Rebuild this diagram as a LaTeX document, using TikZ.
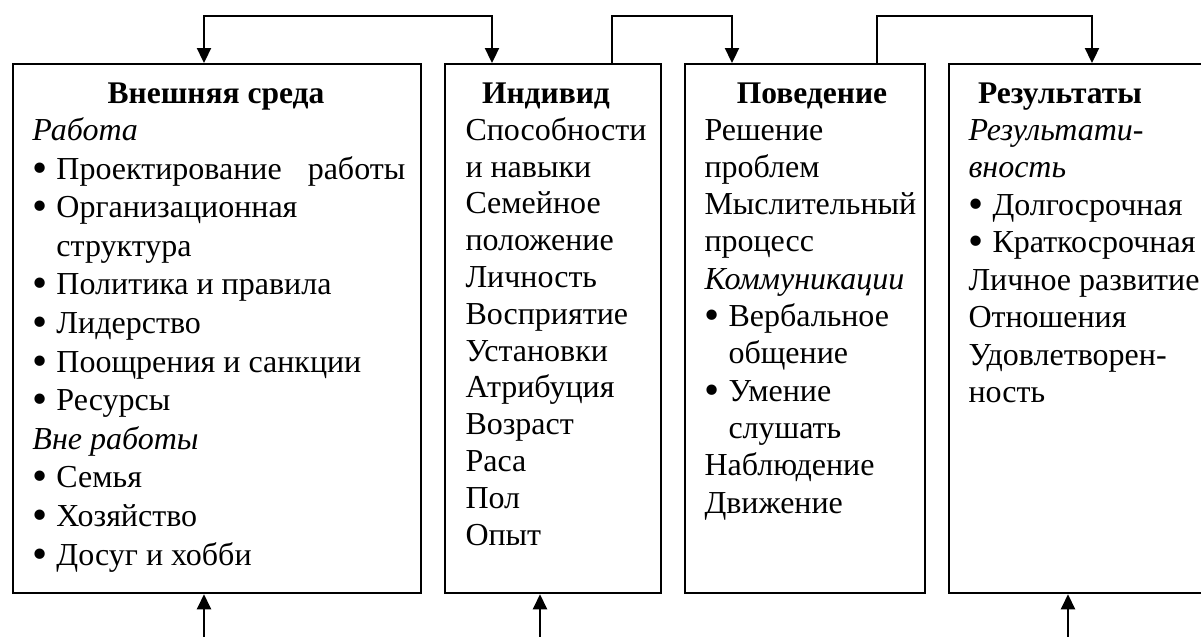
\documentclass[tikz,border=0pt]{standalone}
\usepackage{fontspec}
\usepackage{graphicx}
\setmainfont{Liberation Serif}
\usetikzlibrary{arrows.meta, calc}

\newcommand{\itm}{\makebox[9.6pt][l]{\raisebox{-1.2pt}{\scalebox{1.35}{•}}}}
\newcommand{\cont}{\hspace*{9.6pt}}

\begin{document}
\begin{tikzpicture}[x=0.4pt, y=-0.4pt, >={Triangle[length=6pt, width=5.6pt]},
    box/.style={draw, line width=0.9pt, rectangle, anchor=north west, minimum height=211.6pt, inner sep=0pt},
    head/.style={anchor=base, inner sep=0pt, font=\fontsize{12.6}{15.4}\selectfont\bfseries},
    body/.style={anchor=base west, align=left, inner sep=0pt, font=\fontsize{12.8}{#1}\selectfont},
    link/.style={line width=0.9pt}]
    \useasboundingbox (0,0) rectangle (1201,636);

    % boxes
    \node[box, minimum width=163.2pt] (env) at (12,63) {};
    \node[box, minimum width=86.4pt] (ind) at (444,63) {};
    \node[box, minimum width=96pt] (beh) at (684,63) {};
    \node[box, minimum width=105.6pt] (res) at (948,63) {};

    % headings
    \node[head] (envhd) at (216,103) {Внешняя среда};
    \node[head] (indhd) at (546,103) {Индивид};
    \node[head] (behhd) at (812,103) {Поведение};
    \node[head] (reshd) at (1060,103) {Результаты};

    % contents (anchored at the baseline of the last line)
    \node[body=15.44pt] (envtxt) at (32,565) {\textit{Работа}\\
        \itm Проектирование\hspace{10.4pt}работы\\
        \itm Организационная\\
        \cont структура\\
        \itm Политика и правила\\
        \itm Лидерство\\
        \itm Поощрения и санкции\\
        \itm Ресурсы\\
        \textit{Вне работы}\\
        \itm Семья\\
        \itm Хозяйство\\
        \itm Досуг и хобби};
    \node[body=14.72pt] (indtxt) at (465,545) {Способности\\
        и навыки\\
        Семейное\\
        положение\\
        Личность\\
        Восприятие\\
        Установки\\
        Атрибуция\\
        Возраст\\
        Раса\\
        Пол\\
        Опыт};
    \node[body=14.92pt] (behtxt) at (704,513) {Решение\\
        проблем\\
        Мыслительный\\
        процесс\\
        \textit{Коммуникации}\\
        \itm Вербальное\\
        \cont общение\\
        \itm Умение\\
        \cont слушать\\
        Наблюдение\\
        Движение};
    \node[body=15pt] (restxt) at (968,402.5) {\textit{Результати-}\\
        \textit{вность}\\
        \itm Долгосрочная\\
        \itm Краткосрочная\\
        Личное развитие\\
        Отношения\\
        Удовлетворен-\\
        ность};

    % feedback links on top
    \draw[link, <->] ($(env.north west)+(192,0)$) -- ++(0,-47) -| ($(ind.north west)+(48,0)$);
    \draw[link, ->] ($(ind.north west)+(168,0)$) -- ++(0,-47) -| ($(beh.north west)+(48,0)$);
    \draw[link, ->] ($(beh.north west)+(193,0)$) -- ++(0,-47) -| ($(res.north west)+(144,0)$);

    % inputs from below
    \coordinate (in1) at (204,640);
    \coordinate (in2) at (540,640);
    \coordinate (in3) at (1068,640);
    \draw[link, ->] (in1) -- (in1 |- env.south);
    \draw[link, ->] (in2) -- (in2 |- ind.south);
    \draw[link, ->] (in3) -- (in3 |- res.south);
\end{tikzpicture}
\end{document}
